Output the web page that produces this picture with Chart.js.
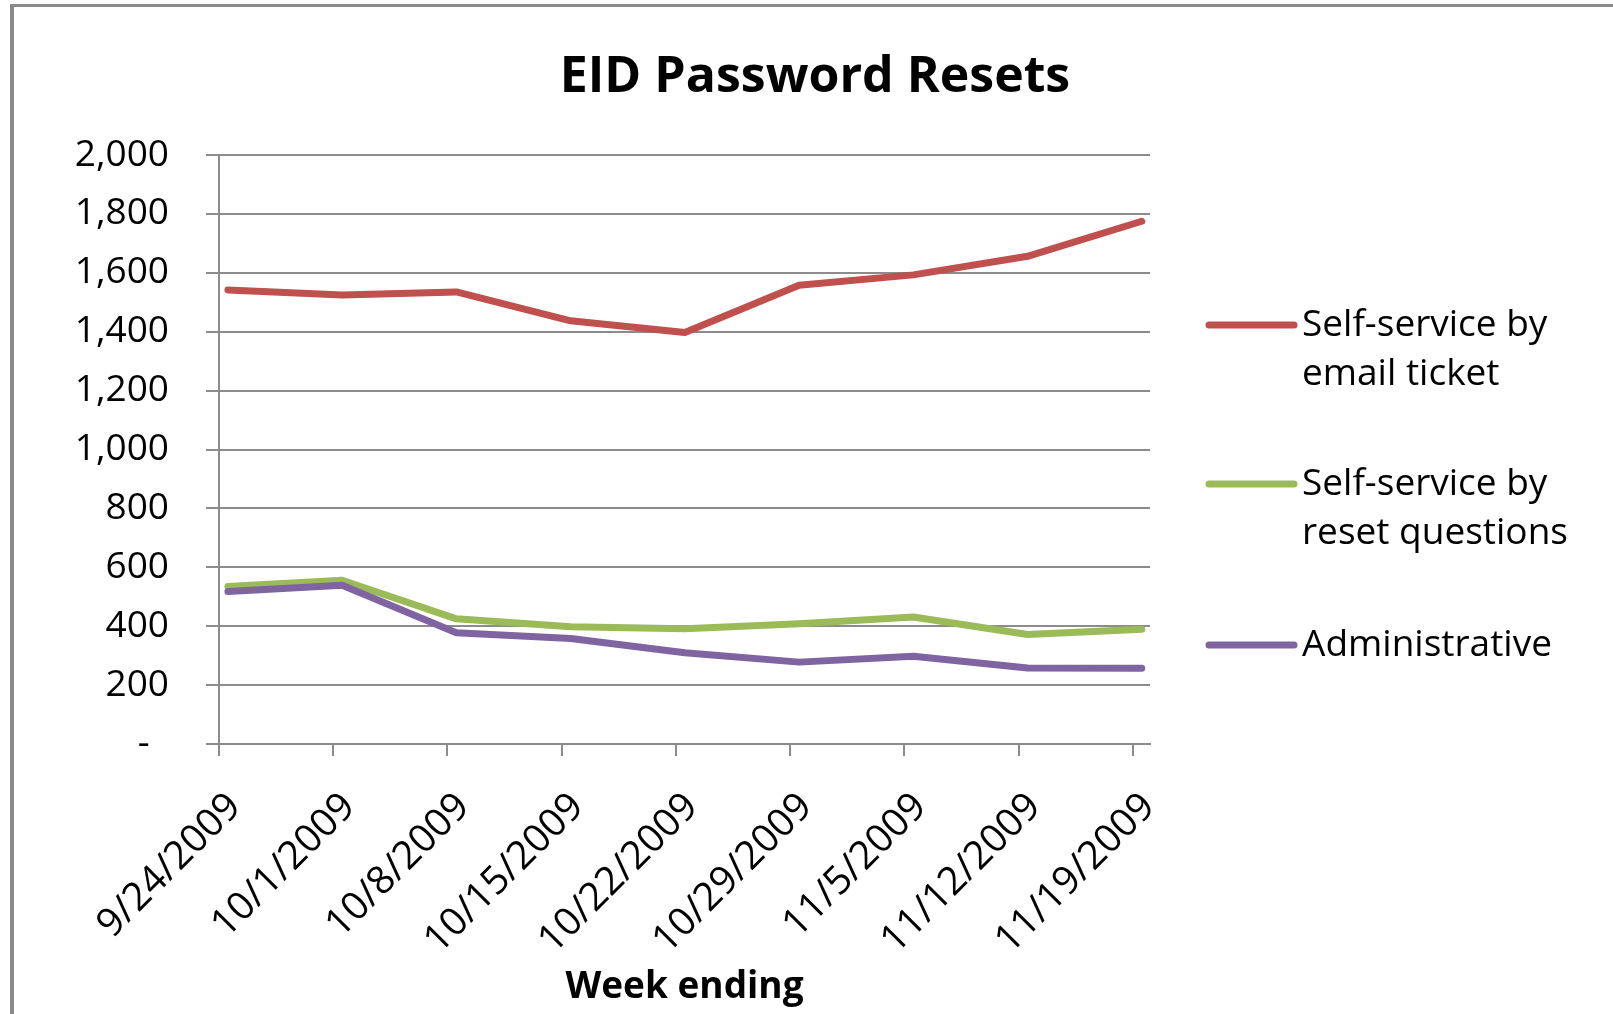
<!DOCTYPE html>
<html lang="en">

<head>
  <meta charset="UTF-8" />
  <title>EID Password Resets</title>
  <script src="https://cdn.jsdelivr.net/npm/chart.js"></script>
  <style>
    body { margin: 0; background: #fff; overflow: hidden; }
    #wrap { position: absolute; left: 0; top: 0; width: 1613px; height: 1014px; }
    /* chart frame, only top and left edges are in view */
    #frame {
      position: absolute; left: 10px; top: 4px; width: 2000px; height: 2000px;
      border-left: 4px solid #8a8a8a; border-top: 3px solid #8a8a8a;
      pointer-events: none;
    }
  </style>
</head>

<body>
  <div id="wrap"><canvas id="resetsChart"></canvas></div>
  <div id="frame"></div>

  <script>
    // weekly counts
    const weeks = ['9/24/2009', '10/1/2009', '10/8/2009', '10/15/2009', '10/22/2009',
      '10/29/2009', '11/5/2009', '11/12/2009', '11/19/2009'];
    const emailTicket = [1542, 1525, 1535, 1437, 1397, 1558, 1593, 1656, 1775];
    const resetQuestions = [535, 556, 425, 398, 391, 408, 431, 372, 390];
    const administrative = [518, 539, 378, 358, 310, 278, 298, 258, 257];

    const seriesNames = [['Self-service by', 'email ticket'], ['Self-service by', 'reset questions'], ['Administrative']];
    const seriesColors = ['#C0504D', '#9BBB59', '#8064A2'];

    const gridColor = '#8c8c8c';
    Chart.defaults.font.family = "'Open Sans', sans-serif";
    Chart.defaults.color = '#000';

    function toPoints(values) {
      return values.map((v, i) => ({ x: i, y: v }));
    }

    // legend drawn on the right with two-line labels
    const sideLegend = {
      id: 'sideLegend',
      afterDraw(chart) {
        const ctx = chart.ctx;
        const rows = [325, 484, 645];
        ctx.save();
        ctx.font = "37px 'Open Sans', sans-serif";
        ctx.textBaseline = 'middle';
        ctx.fillStyle = '#000';
        chart.data.datasets.forEach((ds, i) => {
          const y = rows[i];
          ctx.strokeStyle = ds.borderColor;
          ctx.lineWidth = 7;
          ctx.lineCap = 'round';
          ctx.beginPath();
          ctx.moveTo(1209, y);
          ctx.lineTo(1294, y);
          ctx.stroke();
          ds.legendLines.forEach((line, j) => {
            ctx.fillText(line, 1302, y + j * 49);
          });
        });
        ctx.restore();
      }
    };

    const datasets = [emailTicket, resetQuestions, administrative].map((values, i) => ({
      label: seriesNames[i].join(' '),
      legendLines: seriesNames[i],
      data: toPoints(values),
      xAxisID: 'xd',
      borderColor: seriesColors[i],
      borderWidth: 7,
      borderCapStyle: 'round',
      borderJoinStyle: 'round',
      pointRadius: 0,
      tension: 0,
      order: 2 - i
    }));

    new Chart(document.getElementById('resetsChart'), {
      type: 'line',
      data: { datasets: datasets },
      options: {
        responsive: true,
        maintainAspectRatio: false,
        animation: false,
        layout: { padding: { top: 0, right: 0, bottom: 0, left: 17 } },
        plugins: {
          legend: { display: false },
          tooltip: { enabled: false },
          title: {
            display: true,
            text: 'EID Password Resets',
            font: { size: 50, weight: 'bold', lineHeight: 1.2 },
            color: '#000',
            padding: { top: 48, bottom: 47 }
          }
        },
        scales: {
          // axis that carries the tick marks and date labels
          x: {
            type: 'linear',
            position: 'bottom',
            min: 0,
            max: 8.15,
            afterBuildTicks: (axis) => { axis.ticks = weeks.map((w, i) => ({ value: i })); },
            afterFit: (axis) => { axis.height = 270; },
            ticks: {
              autoSkip: false,
              minRotation: 45,
              maxRotation: 45,
              padding: 28,
              labelOffset: 16,
              font: { size: 39 },
              color: '#000',
              callback: (value) => weeks[value]
            },
            grid: { drawOnChartArea: false, drawTicks: true, tickLength: 12, color: gridColor, lineWidth: 2 },
            border: { display: true, color: gridColor, width: 2 },
            title: {
              display: true,
              text: 'Week ending',
              font: { size: 37, weight: 'bold', lineHeight: 1.2 },
              color: '#000',
              padding: { top: 0, bottom: 4 }
            }
          },
          // axis the series are plotted against (same width, points sit just right of the ticks)
          xd: {
            type: 'linear',
            position: 'bottom',
            display: false,
            min: -0.078,
            max: 8.072
          },
          y: {
            min: 0,
            max: 2000,
            afterFit: (axis) => { axis.width = 202; },
            ticks: {
              stepSize: 200,
              padding: 37,
              font: { size: 37 },
              color: '#000',
              callback: (v) => v === 0 ? '-  ' : v.toLocaleString('en-US')
            },
            grid: { color: gridColor, lineWidth: 2, tickLength: 13 },
            border: { display: true, color: gridColor, width: 2 }
          },
          // empty right-hand strip that leaves room for the legend
          spacer: {
            type: 'linear',
            position: 'right',
            afterFit: (axis) => { axis.width = 463; },
            ticks: { display: false },
            grid: { display: false },
            border: { display: false }
          }
        }
      },
      plugins: [sideLegend]
    });
  </script>
</body>

</html>
